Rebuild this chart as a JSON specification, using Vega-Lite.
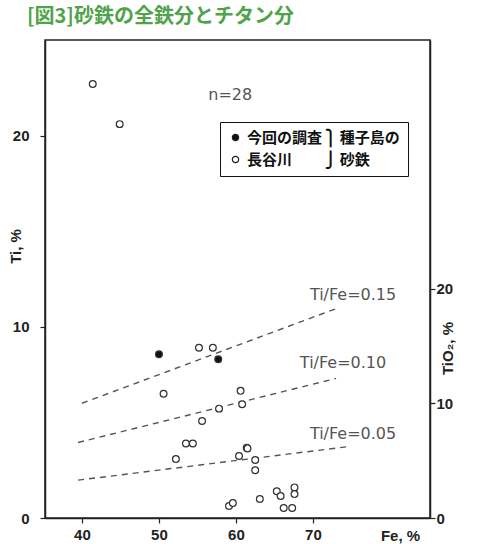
{
  "$schema": "https://vega.github.io/schema/vega-lite/v6.json",
  "width": 385,
  "height": 478,
  "autosize": "none",
  "padding": {"left": 45, "top": 40, "right": 61, "bottom": 26},
  "background": "white",
  "view": {"stroke": "#222", "strokeWidth": 1.5},
  "title": {
    "text": "[図3]砂鉄の全鉄分とチタン分",
    "anchor": "start",
    "frame": "group",
    "dx": -18,
    "offset": 13,
    "fontSize": 20,
    "font": "Noto Sans CJK JP",
    "fontWeight": "bold",
    "color": "#4fa34a"
  },
  "config": {
    "view": {"stroke": "#222", "strokeWidth": 1.5},
    "axis": {
      "domainColor": "#222",
      "domainWidth": 1.5,
      "tickColor": "#222",
      "tickSize": 5,
      "tickWidth": 1.2,
      "grid": false,
      "labelFont": "Liberation Sans",
      "labelFontSize": 15,
      "labelFontWeight": "bold",
      "labelColor": "#222",
      "titleFont": "Liberation Sans",
      "titleFontSize": 15,
      "titleFontWeight": "bold",
      "titleColor": "#222"
    }
  },
  "layer": [
    {
      "encoding": {
        "x": {
          "field": "Fe",
          "type": "quantitative",
          "scale": {"domain": [35.2, 85.2], "nice": false, "zero": false},
          "axis": {
            "values": [40, 50, 60, 70],
            "labelPadding": 4,
            "title": "Fe, %",
            "titleX": 355,
            "titleY": 17,
            "titleBaseline": "middle",
            "titleAlign": "center"
          }
        },
        "y": {
          "field": "Ti",
          "type": "quantitative",
          "scale": {"domain": [0, 25], "nice": false},
          "axis": {
            "values": [0, 10, 20],
            "labelPadding": 11,
            "title": "Ti, %",
            "titleX": -22,
            "titleY": 206,
            "titleAlign": "center"
          }
        }
      },
      "layer": [
        {
          "data": {
            "values": [
              {"ratio": "0.15", "Fe": 40, "Ti": 6.0},
              {"ratio": "0.15", "Fe": 73, "Ti": 10.95},
              {"ratio": "0.10", "Fe": 39.5, "Ti": 3.95},
              {"ratio": "0.10", "Fe": 73, "Ti": 7.3},
              {"ratio": "0.05", "Fe": 39.5, "Ti": 1.98},
              {"ratio": "0.05", "Fe": 74.5, "Ti": 3.73}
            ]
          },
          "mark": {"type": "line", "color": "#555", "strokeDash": [6, 5], "strokeWidth": 1.4},
          "encoding": {"detail": {"field": "ratio", "type": "nominal"}}
        },
        {
          "data": {
            "values": [
              {"group": "長谷川", "Fe": 41.4, "Ti": 22.7},
              {"group": "長谷川", "Fe": 44.9, "Ti": 20.6},
              {"group": "長谷川", "Fe": 55.2, "Ti": 8.9},
              {"group": "長谷川", "Fe": 57.0, "Ti": 8.9},
              {"group": "長谷川", "Fe": 50.6, "Ti": 6.5},
              {"group": "長谷川", "Fe": 60.6, "Ti": 6.65},
              {"group": "長谷川", "Fe": 60.8, "Ti": 5.95},
              {"group": "長谷川", "Fe": 57.8, "Ti": 5.72},
              {"group": "長谷川", "Fe": 55.6, "Ti": 5.07},
              {"group": "長谷川", "Fe": 53.5, "Ti": 3.9},
              {"group": "長谷川", "Fe": 54.4, "Ti": 3.9},
              {"group": "長谷川", "Fe": 52.2, "Ti": 3.08},
              {"group": "長谷川", "Fe": 61.4, "Ti": 3.68},
              {"group": "長谷川", "Fe": 61.5, "Ti": 3.64},
              {"group": "長谷川", "Fe": 60.4, "Ti": 3.24},
              {"group": "長谷川", "Fe": 62.5, "Ti": 3.03},
              {"group": "長谷川", "Fe": 62.5, "Ti": 2.5},
              {"group": "長谷川", "Fe": 63.1, "Ti": 0.99},
              {"group": "長谷川", "Fe": 65.3, "Ti": 1.4},
              {"group": "長谷川", "Fe": 65.8, "Ti": 1.15},
              {"group": "長谷川", "Fe": 67.6, "Ti": 1.6},
              {"group": "長谷川", "Fe": 67.6, "Ti": 1.25},
              {"group": "長谷川", "Fe": 66.2, "Ti": 0.52},
              {"group": "長谷川", "Fe": 67.3, "Ti": 0.52},
              {"group": "長谷川", "Fe": 59.1, "Ti": 0.63},
              {"group": "長谷川", "Fe": 59.6, "Ti": 0.78},
              {"group": "今回の調査", "Fe": 50.0, "Ti": 8.56},
              {"group": "今回の調査", "Fe": 57.7, "Ti": 8.3}
            ]
          },
          "mark": {"type": "point", "filled": true, "size": 46, "stroke": "#333", "strokeWidth": 1.2, "opacity": 1},
          "encoding": {
            "fill": {
              "field": "group",
              "type": "nominal",
              "scale": {"domain": ["今回の調査", "長谷川"], "range": ["#111", "#ffffff"]},
              "legend": {
                "title": null,
                "orient": "none",
                "legendX": 175,
                "legendY": 82,
                "strokeColor": "#111",
                "fillColor": "white",
                "padding": 8,
                "rowPadding": 6,
                "labelFont": "Noto Sans CJK JP",
                "labelFontSize": 15,
                "labelFontWeight": "bold",
                "labelColor": "#111",
                "labelLimit": 400,
                "symbolType": "circle",
                "symbolSize": 40,
                "symbolStrokeColor": "#222",
                "symbolStrokeWidth": 1.2,
                "labelExpr": "datum.label == '今回の調査' ? '今回の調査 ⎫ 種子島の' : '長谷川　　 ⎭ 砂鉄'"
              }
            }
          }
        },
        {
          "data": {
            "values": [
              {"label": "Ti/Fe=0.15", "Fe": 69.6, "Ti": 11.66},
              {"label": "Ti/Fe=0.10", "Fe": 68.3, "Ti": 8.1},
              {"label": "Ti/Fe=0.05", "Fe": 69.6, "Ti": 4.4},
              {"label": "n=28", "Fe": 56.4, "Ti": 22.1}
            ]
          },
          "mark": {"type": "text", "align": "left", "baseline": "middle", "font": "DejaVu Sans", "fontSize": 16, "color": "#555"},
          "encoding": {"text": {"field": "label", "type": "nominal"}}
        }
      ]
    },
    {
      "mark": {"type": "point", "opacity": 0},
      "encoding": {
        "y": {
          "datum": 0,
          "type": "quantitative",
          "scale": {"domain": [0, 41.7], "nice": false},
          "axis": {
            "orient": "right",
            "values": [0, 10, 20],
            "labelPadding": 1,
            "title": "TiO₂, %",
            "titleAngle": 270,
            "titleX": 25,
            "titleY": 308,
            "titleAlign": "center"
          }
        }
      }
    }
  ],
  "resolve": {"scale": {"y": "independent"}}
}
